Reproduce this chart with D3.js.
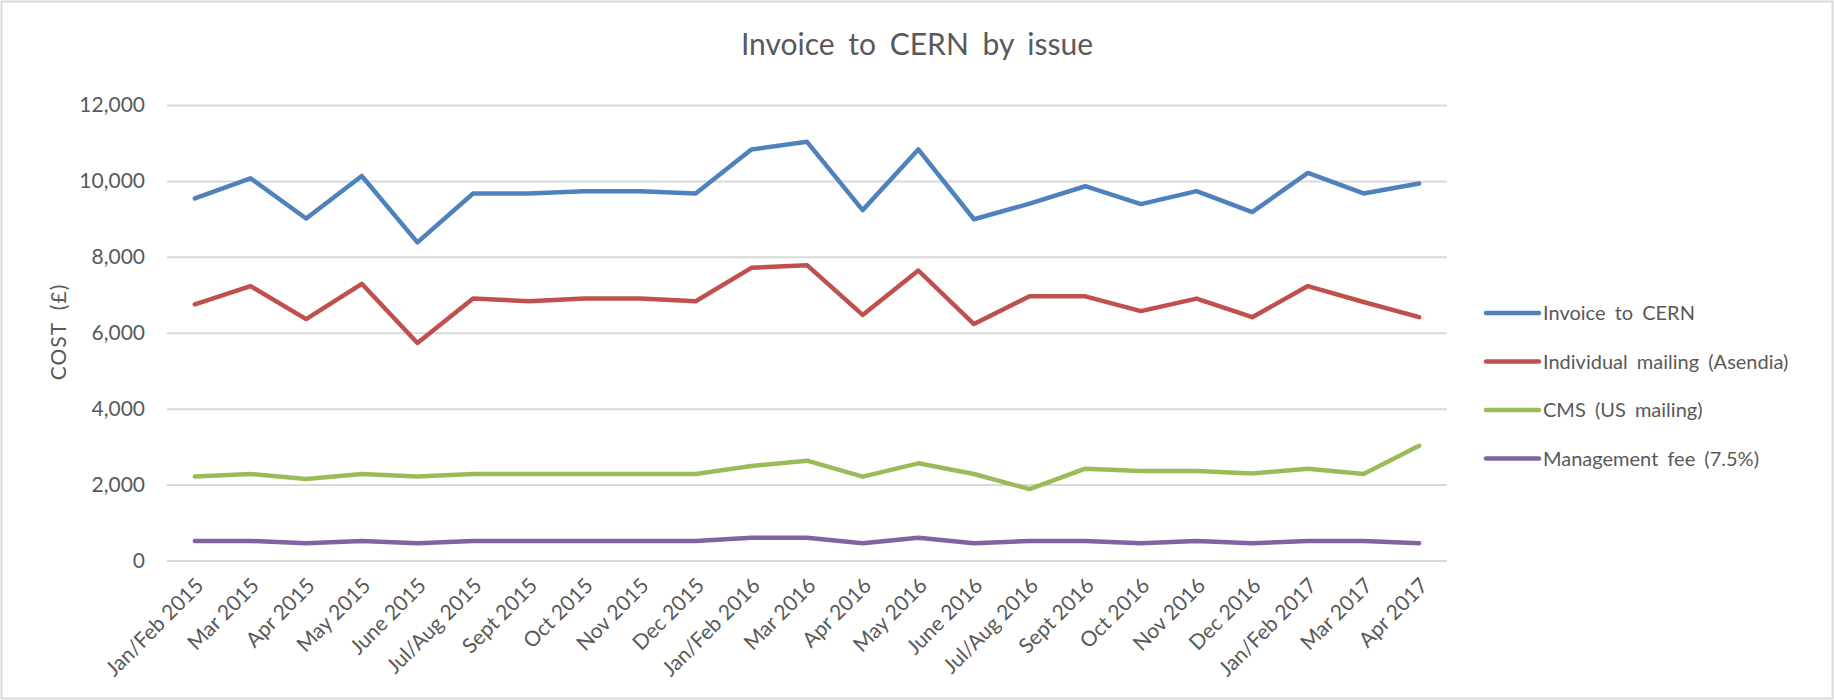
<!DOCTYPE html>
<html>
<head>
<meta charset="utf-8">
<script src="https://cdn.jsdelivr.net/npm/d3@7"></script>
<style>
  body { margin: 0; background: #fff; }
  svg text { font-family: Lato, 'Open Sans', sans-serif; fill: #595959; }
</style>
</head>
<body>
<div id="chart"></div>
<script>
// issues, Jan/Feb 2015 .. Apr 2017
const issues = ['Jan/Feb 2015', 'Mar 2015', 'Apr 2015', 'May 2015', 'June 2015', 'Jul/Aug 2015',
    'Sept 2015', 'Oct 2015', 'Nov 2015', 'Dec 2015', 'Jan/Feb 2016', 'Mar 2016', 'Apr 2016',
    'May 2016', 'June 2016', 'Jul/Aug 2016', 'Sept 2016', 'Oct 2016', 'Nov 2016', 'Dec 2016',
    'Jan/Feb 2017', 'Mar 2017', 'Apr 2017'];

const invoiceToCern = [9540, 10070, 9010, 10130, 8380, 9670, 9670, 9730, 9730, 9670, 10830, 11030,
    9230, 10830, 8990, 9400, 9860, 9390, 9730, 9180, 10210, 9670, 9930];
const individualMailing = [6750, 7230, 6360, 7290, 5730, 6900, 6830, 6900, 6900, 6830, 7710, 7780,
    6470, 7640, 6230, 6960, 6960, 6570, 6900, 6410, 7230, 6810, 6410];
const cmsMailing = [2210, 2280, 2150, 2280, 2210, 2280, 2280, 2280, 2280, 2280, 2490, 2630,
    2210, 2560, 2280, 1880, 2420, 2360, 2360, 2290, 2420, 2280, 3020];
const managementFee = [515, 515, 455, 515, 455, 515, 515, 515, 515, 515, 600, 600,
    455, 600, 455, 515, 515, 455, 515, 455, 515, 515, 455];

const seriesNames = ['Invoice to CERN', 'Individual mailing (Asendia)', 'CMS (US mailing)', 'Management fee (7.5%)'];
const seriesColors = ['#4f81bd', '#c0504d', '#9bbb59', '#8064a2'];
const yTicks = [0, 2000, 4000, 6000, 8000, 10000, 12000];

const width = 1834, height = 700;
const margin = {top: 105, right: 387, bottom: 140, left: 167};

const series = [invoiceToCern, individualMailing, cmsMailing, managementFee].map((values, i) => ({
    name: seriesNames[i],
    color: seriesColors[i],
    values
}));

const svg = d3.select('#chart').append('svg')
    .attr('width', width)
    .attr('height', height);

// chart border
svg.append('rect')
    .attr('x', 1.5).attr('y', 1.5)
    .attr('width', width - 3).attr('height', height - 3)
    .attr('fill', 'none')
    .attr('stroke', '#d9d9d9')
    .attr('stroke-width', 2);

let x = d3.scaleBand()
    .domain(issues)
    .range([margin.left, width - margin.right]);

let y = d3.scaleLinear()
    .domain([0, 12000])
    .range([height - margin.bottom + 0.5, margin.top]);

// gridlines + y labels
let yAxis = d3.axisLeft(y)
    .tickValues(yTicks)
    .tickSize(-(width - margin.right - margin.left))
    .tickPadding(22)
    .tickFormat(d3.format(','));

let gy = svg.append('g')
    .attr('transform', 'translate(' + margin.left + ',0)')
    .call(yAxis);
gy.select('.domain').remove();
gy.selectAll('line').attr('stroke', '#d9d9d9').attr('stroke-width', 2);
gy.selectAll('text').style('font-size', '21px').attr('fill', '#595959');

// x labels
let xAxis = d3.axisBottom(x).tickSize(0).tickPadding(0);
let gx = svg.append('g')
    .attr('transform', 'translate(0,' + (height - margin.bottom) + ')')
    .call(xAxis);
gx.select('.domain').remove();
gx.selectAll('text')
    .style('font-size', '21px')
    .attr('fill', '#595959')
    .attr('text-anchor', 'end')
    .attr('dy', null)
    .attr('y', 0)
    .attr('transform', 'translate(10,27)rotate(-45)');

// lines
let line = d3.line()
    .x((d, i) => x(issues[i]) + x.bandwidth() / 2)
    .y(d => y(d));

svg.append('g').selectAll('path')
    .data(series)
    .enter().append('path')
    .attr('d', d => line(d.values))
    .attr('fill', 'none')
    .attr('stroke', d => d.color)
    .attr('stroke-width', 4.5)
    .attr('stroke-linejoin', 'round')
    .attr('stroke-linecap', 'round');

// title
svg.append('text')
    .attr('x', width / 2)
    .attr('y', 55)
    .attr('text-anchor', 'middle')
    .style('font-size', '30px')
    .style('word-spacing', '6px')
    .text('Invoice to CERN by issue');

// y axis title
svg.append('text')
    .attr('transform', 'translate(66,332)rotate(-90)')
    .attr('text-anchor', 'middle')
    .style('font-size', '21px')
    .style('word-spacing', '6px')
    .style('letter-spacing', '1px')
    .text('COST (£)');

// legend
let legend = svg.append('g')
    .attr('transform', 'translate(1486,313)');

let items = legend.selectAll('g')
    .data(series)
    .enter().append('g')
    .attr('transform', (d, i) => 'translate(0,' + i * 48.5 + ')');

items.append('line')
    .attr('x1', 0).attr('x2', 53)
    .attr('stroke', d => d.color)
    .attr('stroke-width', 4.5)
    .attr('stroke-linecap', 'round');

items.append('text')
    .attr('x', 57)
    .attr('dy', '0.35em')
    .style('font-size', '20px')
    .style('word-spacing', '4px')
    .text(d => d.name);
</script>
</body>
</html>
